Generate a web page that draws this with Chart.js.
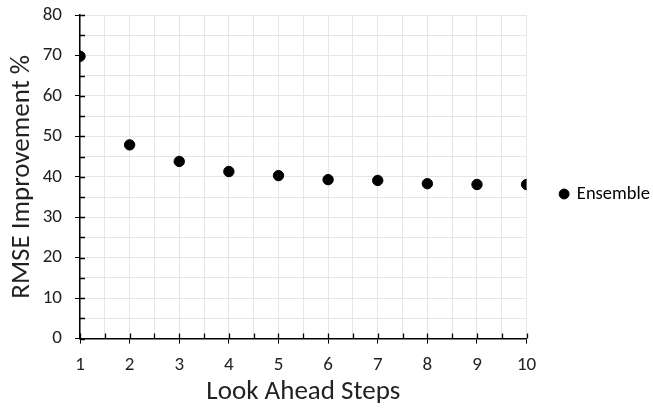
<!DOCTYPE html>
<html>
<head>
<meta charset="utf-8">
<script src="https://cdn.jsdelivr.net/npm/chart.js@4/dist/chart.umd.min.js"></script>
<style>
  html, body { margin: 0; padding: 0; background: #fff; }
  #wrap { width: 653px; height: 408px; }
</style>
</head>
<body>
<div id="wrap"><canvas id="scatterChart" width="653" height="408"></canvas></div>
<script>
// values
const steps = [1, 2, 3, 4, 5, 6, 7, 8, 9, 10];
const improvement = [69.8, 47.9, 43.8, 41.3, 40.3, 39.3, 39.1, 38.3, 38.1, 38.1];
const seriesName = 'Ensemble';
const xTitle = 'Look Ahead Steps';
const yTitle = 'RMSE Improvement %';

const fontFamily = "Carlito, Lato, 'DejaVu Sans', sans-serif";

// small inner tick marks (Excel style) drawn off the scales
const innerTicks = {
    id: 'innerTicks',
    beforeDatasetsDraw(chart) {
        const ctx = chart.ctx;
        const xs = chart.scales.x;
        const ys = chart.scales.y;
        const area = chart.chartArea;
        ctx.save();
        ctx.strokeStyle = '#000';
        ctx.lineWidth = 1.3;
        ctx.beginPath();
        xs.ticks.forEach(t => {
            const px = Math.round(xs.getPixelForValue(t.value)) + 0.5;
            ctx.moveTo(px, area.bottom);
            ctx.lineTo(px, area.bottom - 5);
        });
        ys.ticks.forEach(t => {
            const py = Math.round(ys.getPixelForValue(t.value)) + 0.5;
            ctx.moveTo(area.left, py);
            ctx.lineTo(area.left + 5, py);
        });
        ctx.stroke();
        ctx.restore();
    }
};

const isWhole = v => Math.abs(v - Math.round(v)) < 1e-6;

new Chart(document.getElementById('scatterChart'), {
    type: 'scatter',
    data: {
        datasets: [{
            label: seriesName,
            data: steps.map((s, i) => ({ x: s, y: improvement[i] })),
            backgroundColor: '#000',
            borderColor: '#000',
            pointRadius: 5.2,
            pointHoverRadius: 5.2,
            showLine: false
        }]
    },
    options: {
        responsive: false,
        animation: false,
        events: [],
        layout: {
            padding: { left: 0, right: -7, top: -20, bottom: 0 }
        },
        plugins: {
            tooltip: { enabled: false },
            legend: {
                position: 'right',
                labels: {
                    usePointStyle: true,
                    pointStyle: 'circle',
                    boxWidth: 7,
                    boxHeight: 7,
                    padding: 34,
                    color: '#000',
                    font: { family: fontFamily, size: 18.5 }
                }
            }
        },
        scales: {
            x: {
                type: 'linear',
                min: 1,
                max: 10,
                afterFit: scale => { scale.height = 69.4; },
                ticks: {
                    stepSize: 0.5,
                    autoSkip: false,
                    maxRotation: 0,
                    padding: 10,
                    color: '#222',
                    font: { family: fontFamily, size: 19 },
                    callback: v => isWhole(v) ? v : ''
                },
                grid: {
                    color: '#e6e6e6',
                    lineWidth: 1,
                    tickLength: 5,
                    tickColor: c => isWhole(c.tick.value) ? '#000' : 'rgba(0,0,0,0)'
                },
                border: { color: '#000', width: 1.5 },
                title: {
                    display: true,
                    text: xTitle,
                    color: '#222',
                    padding: { top: 2, bottom: 0 },
                    font: { family: fontFamily, size: 27 }
                }
            },
            y: {
                min: 0,
                max: 80,
                afterFit: scale => {
                    scale.width = 80;
                    scale.paddingTop = 15;
                },
                ticks: {
                    stepSize: 5,
                    autoSkip: false,
                    padding: 13,
                    color: '#222',
                    font: { family: fontFamily, size: 19 },
                    callback: v => v % 10 === 0 ? v : ''
                },
                grid: {
                    color: '#e6e6e6',
                    lineWidth: 1,
                    tickLength: 5,
                    tickColor: c => c.tick.value % 10 === 0 ? '#000' : 'rgba(0,0,0,0)'
                },
                border: { color: '#000', width: 1.5 },
                title: {
                    display: true,
                    text: yTitle,
                    color: '#222',
                    padding: { top: 6, bottom: 0 },
                    font: { family: fontFamily, size: 27 }
                }
            }
        }
    },
    plugins: [innerTicks]
});
</script>
</body>
</html>
